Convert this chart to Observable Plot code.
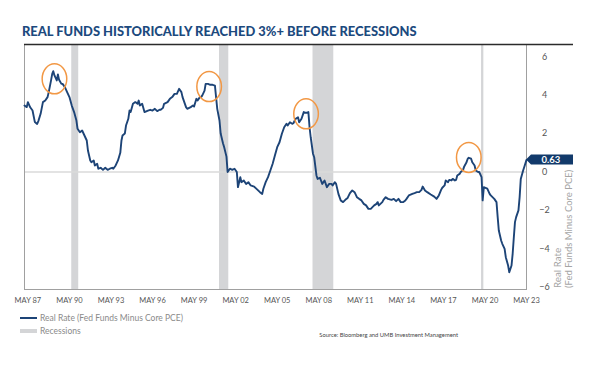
<!DOCTYPE html>
<html><head><meta charset="utf-8">
<script src="https://cdn.jsdelivr.net/npm/d3@7"></script>
<script src="https://cdn.jsdelivr.net/npm/@observablehq/plot@0.6"></script>
<style>
body{margin:0;background:#fff;}
#wrap{position:relative;width:600px;height:367px;overflow:hidden;font-family:Lato,"Open Sans",sans-serif;}
#title{position:absolute;left:22px;top:23px;font-weight:900;font-size:12.9px;color:#1c4a7e;white-space:nowrap;letter-spacing:0px;}
#chart{position:absolute;left:0;top:0;}
.leg{position:absolute;left:20px;font-size:8.5px;color:#8a8a8a;white-space:nowrap;display:flex;align-items:center;}
.sw{display:inline-block;width:17px;margin-right:3px;}
#source{position:absolute;right:142px;top:331px;font-size:5.8px;color:#444;white-space:nowrap;}
</style></head>
<body>
<div id="wrap">
  <div id="chart"></div>
  <div id="title">REAL FUNDS HISTORICALLY REACHED 3%+ BEFORE RECESSIONS</div>
  <div class="leg" style="top:313px"><span class="sw" style="height:2px;background:#1d4477"></span><span id="leg1"></span></div>
  <div class="leg" style="top:326px"><span class="sw" style="height:4px;background:#d4d5d7"></span><span id="leg2"></span></div>
  <div id="source">Source: Bloomberg and UMB Investment Management</div>
</div>
<script>
const seriesName = "Real Rate (Fed Funds Minus Core PCE)";
const recessionName = "Recessions";
const dates = ["1987-02","1987-04","1987-05","1987-07","1987-09","1987-11","1988-01","1988-02","1988-04","1988-06","1988-08","1988-10","1988-11","1989-01","1989-02","1989-03","1989-04","1989-06","1989-07","1989-08","1989-10","1989-11","1990-01","1990-03","1990-05","1990-07","1990-09","1990-11","1990-12","1991-02","1991-04","1991-06","1991-08","1991-09","1991-11","1991-12","1992-02","1992-03","1992-05","1992-06","1992-08","1992-10","1992-12","1993-02","1993-04","1993-06","1993-07","1993-09","1993-11","1994-01","1994-02","1994-03","1994-05","1994-06","1994-08","1994-09","1994-10","1994-12","1995-02","1995-04","1995-05","1995-06","1995-08","1995-10","1996-01","1996-03","1996-05","1996-07","1996-09","1996-11","1996-12","1997-02","1997-03","1997-06","1997-08","1997-10","1997-12","1998-02","1998-04","1998-06","1998-07","1998-09","1998-10","1998-11","1999-02","1999-04","1999-05","1999-07","1999-08","1999-10","1999-11","1999-12","2000-02","2000-03","2000-05","2000-07","2000-09","2000-11","2000-12","2001-01","2001-03","2001-04","2001-06","2001-07","2001-09","2001-10","2001-12","2002-02","2002-04","2002-06","2002-07","2002-09","2002-10","2002-12","2003-02","2003-04","2003-06","2003-09","2003-12","2004-02","2004-04","2004-05","2004-07","2004-09","2004-11","2005-01","2005-03","2005-05","2005-07","2005-09","2005-11","2006-01","2006-02","2006-04","2006-06","2006-07","2006-09","2006-11","2006-12","2007-02","2007-04","2007-06","2007-08","2007-09","2007-10","2007-12","2008-01","2008-03","2008-04","2008-06","2008-08","2008-10","2008-12","2009-02","2009-04","2009-05","2009-07","2009-08","2009-10","2009-12","2010-02","2010-04","2010-06","2010-08","2010-10","2010-12","2011-02","2011-04","2011-06","2011-08","2011-10","2011-12","2012-02","2012-05","2012-07","2012-08","2012-09","2012-12","2013-01","2013-03","2013-05","2013-08","2013-10","2013-12","2014-02","2014-04","2014-06","2014-08","2014-09","2014-11","2015-02","2015-04","2015-06","2015-08","2015-10","2015-11","2016-01","2016-03","2016-06","2016-09","2016-11","2016-12","2017-01","2017-03","2017-04","2017-06","2017-07","2017-09","2017-10","2017-12","2018-01","2018-03","2018-04","2018-05","2018-07","2018-08","2018-10","2018-11","2019-01","2019-02","2019-03","2019-05","2019-06","2019-08","2019-09","2019-11","2019-12","2020-02","2020-03","2020-04","2020-05","2020-07","2020-09","2020-10","2021-01","2021-03","2021-04","2021-05","2021-07","2021-08","2021-10","2021-11","2022-01","2022-02","2022-04","2022-05","2022-06","2022-07","2022-08","2022-10","2022-11","2022-12","2023-02","2023-03","2023-05"];
const values = [3.46,3.38,3.64,3.37,3.2,2.6,2.5,2.65,3.03,3.64,3.72,3.9,4.16,4.77,5.11,5.25,5.03,4.77,5.08,4.8,4.59,4.59,4.42,4.16,3.9,3.46,3.12,2.68,2.25,2.07,2.16,1.9,1.64,1.12,0.6,0.51,0.6,0.34,0.43,0.17,0.22,0.11,0.22,0.11,0.17,0.22,0.17,0.34,0.6,1.0,1.64,1.9,2.0,2.42,2.77,3.2,3.12,3.55,3.64,3.55,3.72,3.46,3.55,3.12,3.2,3.24,3.2,3.29,3.17,3.24,3.24,3.34,3.55,3.64,3.81,3.9,4.07,4.07,4.33,4.16,3.9,3.55,3.38,3.29,3.38,3.46,3.41,3.81,3.72,3.9,3.9,3.98,4.24,4.59,4.59,4.54,4.54,4.5,3.9,3.29,2.68,2.0,1.5,1.3,0.8,0.0,0.17,0.11,0.17,0.0,-0.79,-0.27,-0.53,-0.44,-0.62,-0.53,-0.7,-0.76,-0.93,-1.05,-1.14,-0.87,-0.53,-0.27,0.08,0.43,0.86,1.29,1.55,1.99,2.33,2.51,2.42,2.59,2.51,2.54,2.77,2.85,2.59,2.77,3.12,3.08,3.12,2.33,1.81,0.95,0.77,-0.18,-0.36,-0.3,-0.62,-0.44,-0.79,-0.62,-0.62,-0.7,-0.53,-0.62,-1.14,-1.48,-1.57,-1.45,-1.35,-1.1,-0.96,-1.05,-1.31,-1.4,-1.48,-1.66,-1.74,-1.92,-1.92,-1.74,-1.66,-1.57,-1.74,-1.57,-1.45,-1.31,-1.4,-1.45,-1.4,-1.52,-1.4,-1.57,-1.57,-1.48,-1.4,-1.22,-1.14,-1.1,-1.05,-1.05,-0.93,-0.76,-0.96,-1.05,-1.17,-1.28,-1.4,-1.31,-1.22,-0.93,-0.82,-0.7,-0.44,-0.53,-0.41,-0.44,-0.36,-0.44,-0.41,-0.18,-0.1,0.0,0.11,0.29,0.51,0.69,0.74,0.69,0.51,0.34,0.08,0.0,0.0,-0.27,-1.48,-0.79,-0.82,-0.87,-1.14,-1.22,-1.4,-1.57,-2.35,-3.05,-3.57,-3.74,-4.0,-4.44,-4.87,-5.22,-4.87,-4.26,-3.4,-2.61,-2.35,-2.0,-1.31,-0.36,0.08,0.25,0.63];
const recessionStart = ["1990-07","2001-03","2007-12","2020-02"];
const recessionEnd = ["1991-01","2001-11","2009-06","2020-04"];
const peakDates = ["1989-04","2000-06","2007-06","2019-03"];
const peakValues = [4.85,4.45,3.03,0.76];
const xTickDates = ["1987-05","1990-05","1993-05","1996-05","1999-05","2002-05","2005-05","2008-05","2011-05","2014-05","2017-05","2020-05","2023-05"];
const xTickLabels = ["MAY 87","MAY 90","MAY 93","MAY 96","MAY 99","MAY 02","MAY 05","MAY 08","MAY 11","MAY 14","MAY 17","MAY 20","MAY 23"];
const yTicks = [-6,-4,-2,0,2,4,6];
const yDomain = [-6.12, 6.64];
const xDomain = ["1987-02","2023-05"];
const yTitle1 = "Real Rate";
const yTitle2 = "(Fed Funds Minus Core PCE)";

const parse = d3.utcParse("%Y-%m");
const data = dates.map((d,i)=>({date:parse(d), value:values[i]}));
const recs = recessionStart.map((s,i)=>({start:parse(s), end:parse(recessionEnd[i])}));
const peaks = peakDates.map((d,i)=>({date:parse(d), value:peakValues[i]}));
const tickMap = new Map(xTickDates.map((d,i)=>[+parse(d), xTickLabels[i]]));
const last = data[data.length-1];

document.getElementById("leg1").textContent = seriesName;
document.getElementById("leg2").textContent = recessionName;

const plot = Plot.plot({
  width:600, height:367,
  marginTop:44, marginBottom:78, marginLeft:24, marginRight:74,
  style:{fontFamily:"Lato, 'Open Sans', sans-serif", background:"transparent", overflow:"visible"},
  x:{type:"utc", domain:xDomain.map(parse)},
  y:{domain:yDomain},
  marks:[
    Plot.rect(recs,{x1:"start", x2:"end", fill:"#d4d5d7"}),
    Plot.ruleY([0],{stroke:"#dadada", strokeWidth:1.5}),
    Plot.frame({stroke:"#a0a0a0", strokeWidth:1}),
    Plot.ruleY([yDomain[1]],{stroke:"#2b2b2b", strokeWidth:1.6, insetRight:-47}),
    Plot.line(data,{x:"date", y:"value", stroke:"#1d4477", strokeWidth:1.9}),
    Plot.dot(peaks,{x:"date", y:"value", r:13, stroke:"#f29845", strokeWidth:1.5, fill:"none"}),
    Plot.axisX({ticks:xTickDates.map(parse), tickFormat:d=>tickMap.get(+d), tickSize:0, tickPadding:8, fontSize:7.5, fill:"#555", label:null}),
    Plot.axisY({anchor:"right", ticks:yTicks, tickSize:0, tickPadding:18, textAnchor:"middle", fontSize:9, fill:"#555", label:null})
  ]
});
document.getElementById("chart").appendChild(plot);

const svg = d3.select(plot);
svg.selectAll("g[aria-label='dot'] circle").each(function(){
  const c = d3.select(this);
  const cx = c.attr("cx"), cy = c.attr("cy");
  const t = c.attr("transform");
  const e = d3.select(this.parentNode).insert("ellipse", ()=>this)
    .attr("rx",12.3).attr("ry",15).attr("fill","none")
    .attr("stroke","#f29845").attr("stroke-width",1.5);
  if (cx!=null) e.attr("cx",cx).attr("cy",cy);
  if (t) e.attr("transform",t);
  c.remove();
});
const xs = plot.scale("x"), ys = plot.scale("y");
const lx = xs.apply(last.date), ly = ys.apply(last.value);
const g = svg.append("g");
g.append("path").attr("d",`M${lx},${ly} L${lx+5},${ly-5} L${lx+47},${ly-5} L${lx+47},${ly+5} L${lx+5},${ly+5} Z`).attr("fill","#123a6b");
g.append("text").attr("x",lx+25).attr("y",ly).attr("dy","0.35em").attr("text-anchor","middle")
  .attr("fill","#fff").attr("font-size",9.5).attr("font-weight",700).text(last.value.toFixed(2));
const yb = ys.apply(yDomain[0]);
g.append("text").attr("transform",`translate(561,${yb-1}) rotate(-90)`).attr("text-anchor","start").attr("font-size",9.8).attr("fill","#a5a5a5").text(yTitle1);
g.append("text").attr("transform",`translate(572,${yb-1}) rotate(-90)`).attr("text-anchor","start").attr("font-size",9.5).attr("fill","#a5a5a5").text(yTitle2);
</script>
</body></html>
